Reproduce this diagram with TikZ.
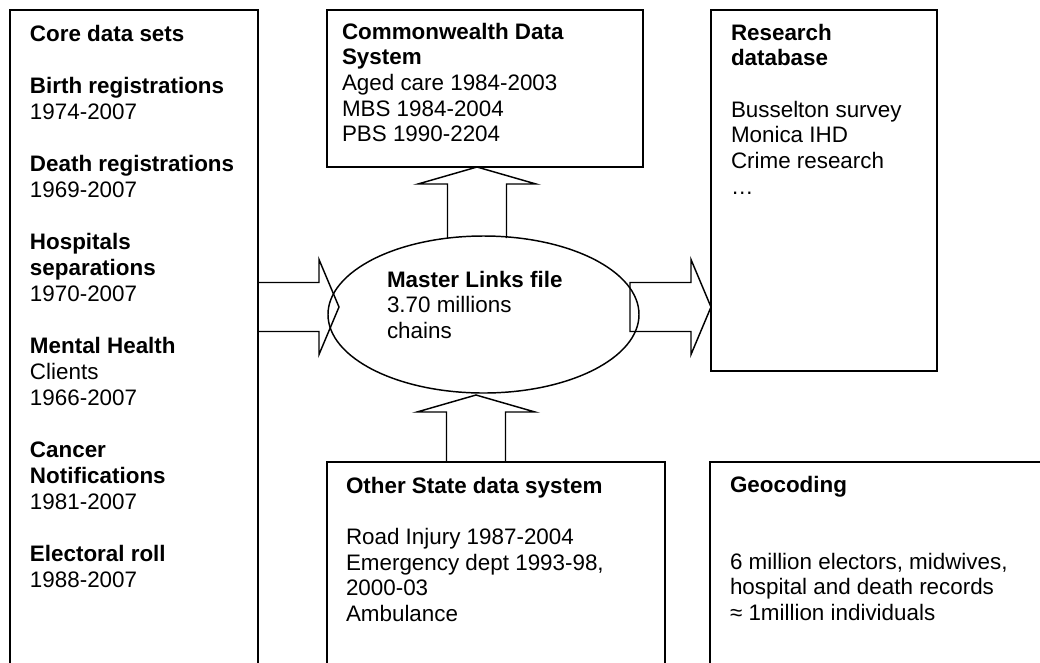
\documentclass[tikz,border=0pt]{standalone}
\usepackage{fontspec}
\setmainfont{Liberation Sans}
\usetikzlibrary{shapes.geometric,fit,calc}

% strut that fixes the height of a block's first line
\newcommand\lineone{\rule{0pt}{0.8em}}

% block arrow pointing right, from #1 (back) to #2 (tip)
\newcommand\rightblock[2]{%
  \draw[arrowline] ($(#1)+(0,-24.5)$) -- ($(#2)+(-20,-24.5)$) -- ($(#2)+(-20,-47.5)$)
    -- (#2) -- ($(#2)+(-20,47.5)$) -- ($(#2)+(-20,24.5)$) -- ($(#1)+(0,24.5)$) -- cycle;}
% block arrow pointing up, from #1 (base) to #2 (tip)
\newcommand\upblock[2]{%
  \draw[arrowline] ($(#1)+(-29.5,0)$) -- ($(#2)+(-29.5,17)$) -- ($(#2)+(-59,17)$)
    -- (#2) -- ($(#2)+(59,17)$) -- ($(#2)+(29.5,17)$) -- ($(#1)+(29.5,0)$);}

\begin{document}
\begin{tikzpicture}[x=0.75pt,y=-0.75pt,
  outline/.style={draw=black, line width=1.1pt},
  box/.style={outline, rectangle, inner sep=0pt, outer sep=0pt},
  txt/.style={anchor=north west, inner sep=0pt, outer sep=0pt, align=left,
    font=\fontsize{16.8}{19.3}\selectfont},
  arrowline/.style={outline, line join=miter}]
\useasboundingbox (0,0) rectangle (1040,662);
\fill[white] (0,0) rectangle (1040,662);
\clip (0,0) rectangle (1040,662);

% frames
\node[box, fit={(10,10) (258,700)}] (core) {};
\node[box, fit={(327,10) (643,167)}] (cw) {};
\node[box, fit={(711,10) (937,371)}] (research) {};
\node[box, fit={(327,462) (665,700)}] (other) {};
\node[box, fit={(710,462) (1100,700)}] (geo) {};
\node[outline, ellipse, inner sep=0pt, outer sep=0pt,
  minimum width=311*0.75pt, minimum height=157*0.75pt] (master) at (483.5,314.5) {};

% texts
\node[txt, font=\fontsize{16.8}{19.5}\selectfont] (coretext) at (30,23.1)
  {\lineone\textbf{Core data sets}\\[19.5pt]
  \textbf{Birth registrations}\\ 1974-2007\\[19.5pt]
  \textbf{Death registrations}\\ 1969-2007\\[19.5pt]
  \textbf{Hospitals}\\ \textbf{separations}\\ 1970-2007\\[19.5pt]
  \textbf{Mental Health}\\ Clients\\ 1966-2007\\[19.5pt]
  \textbf{Cancer}\\ \textbf{Notifications}\\ 1981-2007\\[19.5pt]
  \textbf{Electoral roll}\\ 1988-2007};
\node[txt] (cwtext) at (342,21.1) {\lineone\textbf{Commonwealth Data}\\
  \textbf{System}\\ Aged care 1984-2003\\ MBS 1984-2004\\ PBS 1990-2204};
\node[txt] (researchtext) at (731,22.1) {\lineone\textbf{Research}\\ \textbf{database}\\[19.3pt]
  Busselton survey\\ Monica IHD\\ Crime research\\ …};
\node[txt] (mastertext) at (387,269.1) {\lineone\textbf{Master Links file}\\
  3.70 millions\\ chains};
\node[txt] (othertext) at (346,475.1) {\lineone\textbf{Other State data system}\\[19.3pt]
  Road Injury 1987-2004\\ Emergency dept 1993-98,\\ 2000-03\\ Ambulance};
\node[txt] (geotext) at (730,474.1) {\lineone\textbf{Geocoding}\\[38.6pt]
  6 million electors, midwives,\\ hospital and death records\\ ≈ 1million individuals};

% arrow ends
\coordinate (inback) at (core.east |- 0,307);
\coordinate (intip) at (339,307);
\coordinate (outback) at (630,307);
\coordinate (outtip) at (research.west |- 0,307);
\coordinate (upback) at (477,238);
\coordinate (uptip) at (cw.south -| 477,0);
\coordinate (lowback) at (other.north -| 476,0);
\coordinate (lowtip) at (476,395);

% block arrows
\rightblock{inback}{intip}
\rightblock{outback}{outtip}
\upblock{upback}{uptip}
\upblock{lowback}{lowtip}
\end{tikzpicture}
\end{document}
